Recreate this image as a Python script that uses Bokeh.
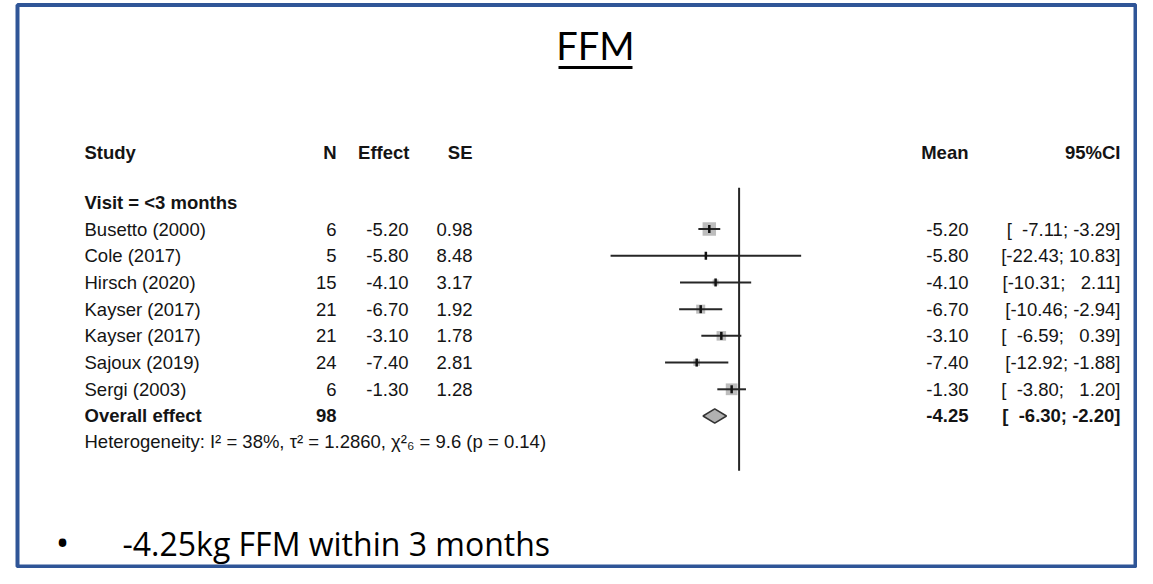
import math
from bokeh.plotting import figure
from bokeh.models import Range1d, ColumnDataSource, BoxAnnotation
from bokeh.embed import file_html
from bokeh.resources import INLINE
from bokeh.core.properties import value

# ---------------- data ----------------
studies = ["Busetto (2000)", "Cole (2017)", "Hirsch (2020)", "Kayser (2017)",
           "Kayser (2017)", "Sajoux (2019)", "Sergi (2003)"]
n_obs = [6, 5, 15, 21, 21, 24, 6]
effect = [-5.20, -5.80, -4.10, -6.70, -3.10, -7.40, -1.30]
se = [0.98, 8.48, 3.17, 1.92, 1.78, 2.81, 1.28]
ci_low = [-7.11, -22.43, -10.31, -10.46, -6.59, -12.92, -3.80]
ci_high = [-3.29, 10.83, 2.11, -2.94, 0.39, -1.88, 1.20]
weight_pct = [31.3, 1.0, 6.2, 14.1, 15.8, 7.7, 24.0]

overall_label = "Overall effect"
overall_n = 98
overall_mean = -4.25
overall_low = -6.30
overall_high = -2.20

subgroup_label = "Visit = <3 months"
header_cols = ["Study", "N", "Effect", "SE", "Mean", "95%CI"]
heterogeneity = "Heterogeneity: I\u00b2 = 38%, \u03c4\u00b2 = 1.2860, \u03c7\u00b2\u2086 = 9.6 (p = 0.14)"
title_text = "FFM"
bullet_text = "-4.25kg FFM within 3 months"

# ---------------- helpers ----------------
NB = "\u00a0"


def pad(v, width):
    s = f"{v:.2f}"
    return NB * 2 * max(0, width - len(s)) + s


def ci_str(lo, hi):
    return "[" + pad(lo, 6) + "; " + pad(hi, 5) + "]"


W, H = 1137, 568
p = figure(width=W, height=H, x_range=Range1d(0, W), y_range=Range1d(H, 0),
           output_backend="svg", toolbar_location=None, min_border=0,
           x_axis_location=None, y_axis_location=None)
p.grid.visible = False
p.outline_line_color = None
p.background_fill_color = "white"
p.border_fill_color = "white"
p.extra_x_ranges = {"fx": Range1d(-128.9, 69.53)}
p.extra_y_ranges = {"row": Range1d(12.71, -8.557)}

rows = list(range(len(studies)))
overall_row = len(studies)

FONT = value("Liberation Sans")
FS = value("18.5px")
TXT = "#141414"

# border of the slide
p.add_layout(BoxAnnotation(left=17, right=1135, top=4.5, bottom=566,
                           fill_color=None, fill_alpha=0,
                           line_color="#2f5597", line_alpha=1.0, line_width=4))

# title
p.text(x=[595], y=[44], text=[title_text], text_font=value("Lato"),
       text_font_size=value("38px"), text_align="center", text_baseline="middle",
       text_color="black")
p.segment(x0=[558], x1=[632], y0=[67], y1=[67], line_color="black", line_width=3)

# header
hx = [84, 336, 409, 472, 968, 1120]
ha = ["left", "right", "right", "right", "right", "right"]
hsrc = ColumnDataSource(dict(x=hx, y=[-2.86] * 6, t=header_cols, a=ha))
p.text(x="x", y="y", text="t", text_align="a", source=hsrc, y_range_name="row",
       text_font=FONT, text_font_size=FS, text_font_style="bold",
       text_baseline="middle", text_color=TXT)

p.text(x=[84], y=[-1.0], text=[subgroup_label], y_range_name="row",
       text_font=FONT, text_font_size=FS, text_font_style="bold",
       text_baseline="middle", text_color=TXT)


# table columns
def col(xpos, texts, align, bold=False, ys=None):
    src = ColumnDataSource(dict(x=[xpos] * len(texts), y=ys if ys is not None else rows, t=texts))
    p.text(x="x", y="y", text="t", source=src, y_range_name="row",
           text_font=FONT, text_font_size=FS, text_align=align,
           text_font_style="bold" if bold else "normal",
           text_baseline="middle", text_color=TXT)


col(84, studies, "left")
col(336, [str(v) for v in n_obs], "right")
col(408, [f"{v:.2f}" for v in effect], "right")
col(472, [f"{v:.2f}" for v in se], "right")
col(968, [f"{v:.2f}" for v in effect], "right")
col(1120, [ci_str(a, b) for a, b in zip(ci_low, ci_high)], "right")

col(84, [overall_label], "left", True, [overall_row])
col(336, [str(overall_n)], "right", True, [overall_row])
col(968, [f"{overall_mean:.2f}"], "right", True, [overall_row])
col(1120, [ci_str(overall_low, overall_high)], "right", True, [overall_row])

p.text(x=[84], y=[7.95], text=[heterogeneity], y_range_name="row",
       text_font=FONT, text_font_size=value("18.5px"), text_align="left",
       text_baseline="middle", text_color=TXT)

# forest plot
fsrc = ColumnDataSource(dict(
    eff=effect, lo=ci_low, hi=ci_high, y=rows,
    sz=[2.4 * math.sqrt(w) for w in weight_pct]))
p.scatter(x="eff", y="y", size="sz", marker="square", source=fsrc,
          fill_color="#bdbdbd", line_color=None,
          x_range_name="fx", y_range_name="row")
p.segment(x0="lo", x1="hi", y0="y", y1="y", source=fsrc, line_color="#262626",
          line_width=2, x_range_name="fx", y_range_name="row")
p.scatter(x="eff", y="y", source=fsrc, marker="dash", angle=math.pi / 2, size=8,
          line_color="#111111", line_width=2.5, x_range_name="fx", y_range_name="row")

p.segment(x0=[0], x1=[0], y0=[-1.55], y1=[9.05], line_color="#262626", line_width=2,
          x_range_name="fx", y_range_name="row")

p.patch(x=[overall_low, overall_mean, overall_high, overall_mean],
        y=[overall_row, overall_row - 0.27, overall_row, overall_row + 0.27],
        fill_color="#b0b0b0", line_color="#333333", line_width=1.5,
        x_range_name="fx", y_range_name="row")

# bullet line
p.text(x=[62], y=[542], text=["\u2022"], text_font=value("Open Sans"),
       text_font_size=value("36px"), text_align="center", text_baseline="middle",
       text_color="black")
p.text(x=[122], y=[543], text=[bullet_text], text_font=value("Open Sans"),
       text_font_size=value("32px"), text_align="left", text_baseline="middle",
       text_color="black")

open("out.html", "w").write(file_html(p, INLINE))
